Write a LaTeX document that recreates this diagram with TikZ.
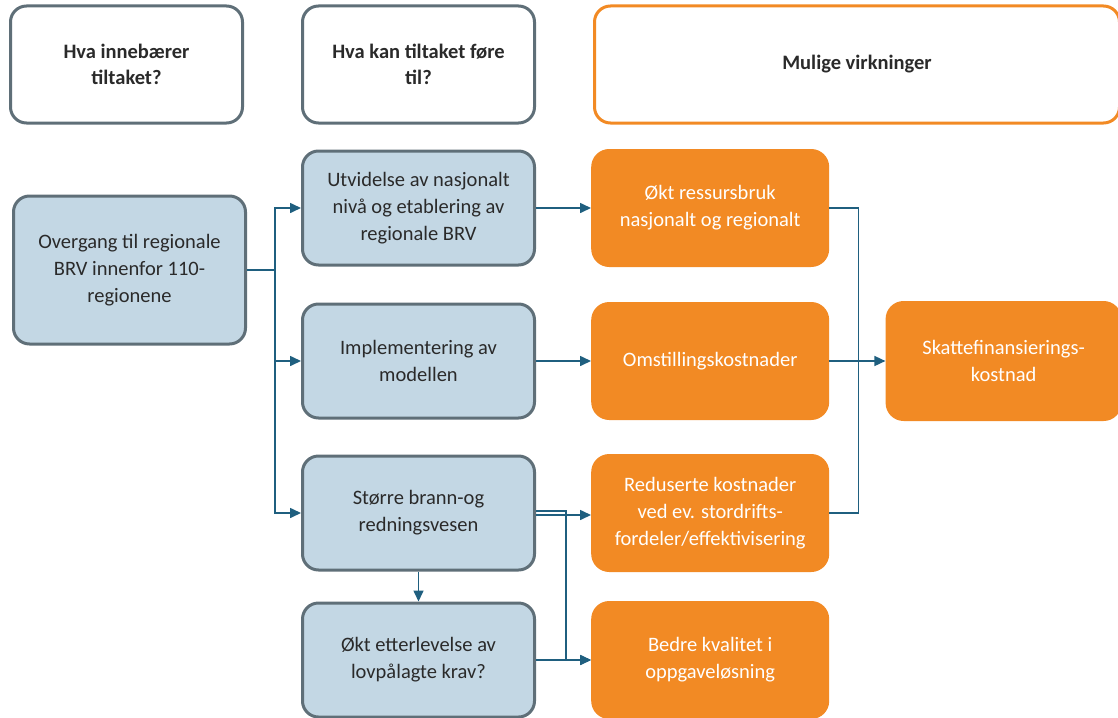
\documentclass[tikz,border=0pt]{standalone}
\usepackage{fontspec}
\setmainfont{Carlito}
\usepackage{xcolor}
\definecolor{brvgrey}{HTML}{5F6F78}
\definecolor{brvblue}{HTML}{C3D7E4}
\definecolor{brvline}{HTML}{1F5F7F}
\definecolor{brvorange}{HTML}{F28A24}
\definecolor{brvtext}{HTML}{2A2A2A}
\usetikzlibrary{arrows.meta,positioning}

\begin{document}
\begin{tikzpicture}[x=1pt,y=-1pt,
  head/.style={draw=brvgrey,line width=3pt,rounded corners=16pt,fill=white,align=center,
    font=\fontsize{20.5}{26}\selectfont\bfseries,text=brvtext,minimum width=232pt,minimum height=117pt},
  tiltak/.style={draw=brvgrey,line width=3pt,rounded corners=16pt,fill=brvblue,align=center,
    font=\fontsize{20.5}{27}\selectfont,text=brvtext,minimum width=232pt,minimum height=114pt},
  virkning/.style={rounded corners=18pt,fill=brvorange,align=center,
    font=\fontsize{20.5}{27}\selectfont,text=white,minimum width=238pt,minimum height=118pt},
  link/.style={line width=1.6pt,brvline},
  arr/.style={-{Triangle[length=11pt,width=10pt]},line width=1.6pt,brvline}]
  \useasboundingbox (0,0) rectangle (1118,717);
  % tiltak column
  \node[tiltak] (impl) at (418.5,361) {Implementering av\\modellen};
  \node[tiltak,above=36pt of impl] (utvid) {Utvidelse av nasjonalt\\niv\aa{} og etablering av\\regionale BRV};
  \node[tiltak,below=35pt of impl] (storre) {St\o rre brann-og\\redningsvesen};
  \node[tiltak,below=30pt of storre] (etterl) {\O kt etterlevelse av\\lovp\aa lagte krav?};
  \node[tiltak,minimum height=148pt] (overgang) at (129.5,270) {Overgang til regionale\\BRV innenfor 110-\\regionene};
  % headers
  \node[head,above=25pt of utvid] (hva2) {Hva kan tiltaket f\o re\\til?};
  \node[head,left=57pt of hva2] (hva1) {Hva inneb\ae rer\\tiltaket?};
  \node[head,draw=brvorange,minimum width=525pt,right=57pt of hva2] (hva3) {Mulige virkninger};
  % virkninger
  \node[virkning,right=55pt of utvid] (okt) {\O kt ressursbruk\\nasjonalt og regionalt};
  \node[virkning,right=55pt of impl] (omst) {Omstillingskostnader};
  \node[virkning,right=55pt of storre] (redus) {Reduserte kostnader\\ved ev. stordrifts-\\fordeler/effektivisering};
  \node[virkning,right=55pt of etterl] (bedre) {Bedre kvalitet i\\oppgavel\o sning};
  \node[virkning,minimum width=236pt,minimum height=120pt,right=56pt of omst] (skatt) {Skattefinansierings-\\kostnad};
  % connectors
  \draw[link] (overgang.east) -- ++(28pt,0) coordinate (split);
  \draw[arr] (split) |- (utvid.west);
  \draw[arr] (split) |- (storre.west);
  \draw[arr] (split |- impl.west) -- (impl.west);
  \draw[arr] (utvid) -- (okt);
  \draw[arr] (impl) -- (omst);
  \draw[arr] ([yshift=-2pt]storre.east) -- ([yshift=-2pt]redus.west);
  \draw[arr] ([yshift=2pt]storre.east) -- ++(30pt,0) |- (bedre.west);
  \draw[arr] (etterl) -- (bedre);
  \draw[arr] (storre) -- (etterl);
  \draw[link] (okt.east) -- ++(29pt,0) |- (redus.east);
  \draw[arr] (omst) -- (skatt);
\end{tikzpicture}
\end{document}
